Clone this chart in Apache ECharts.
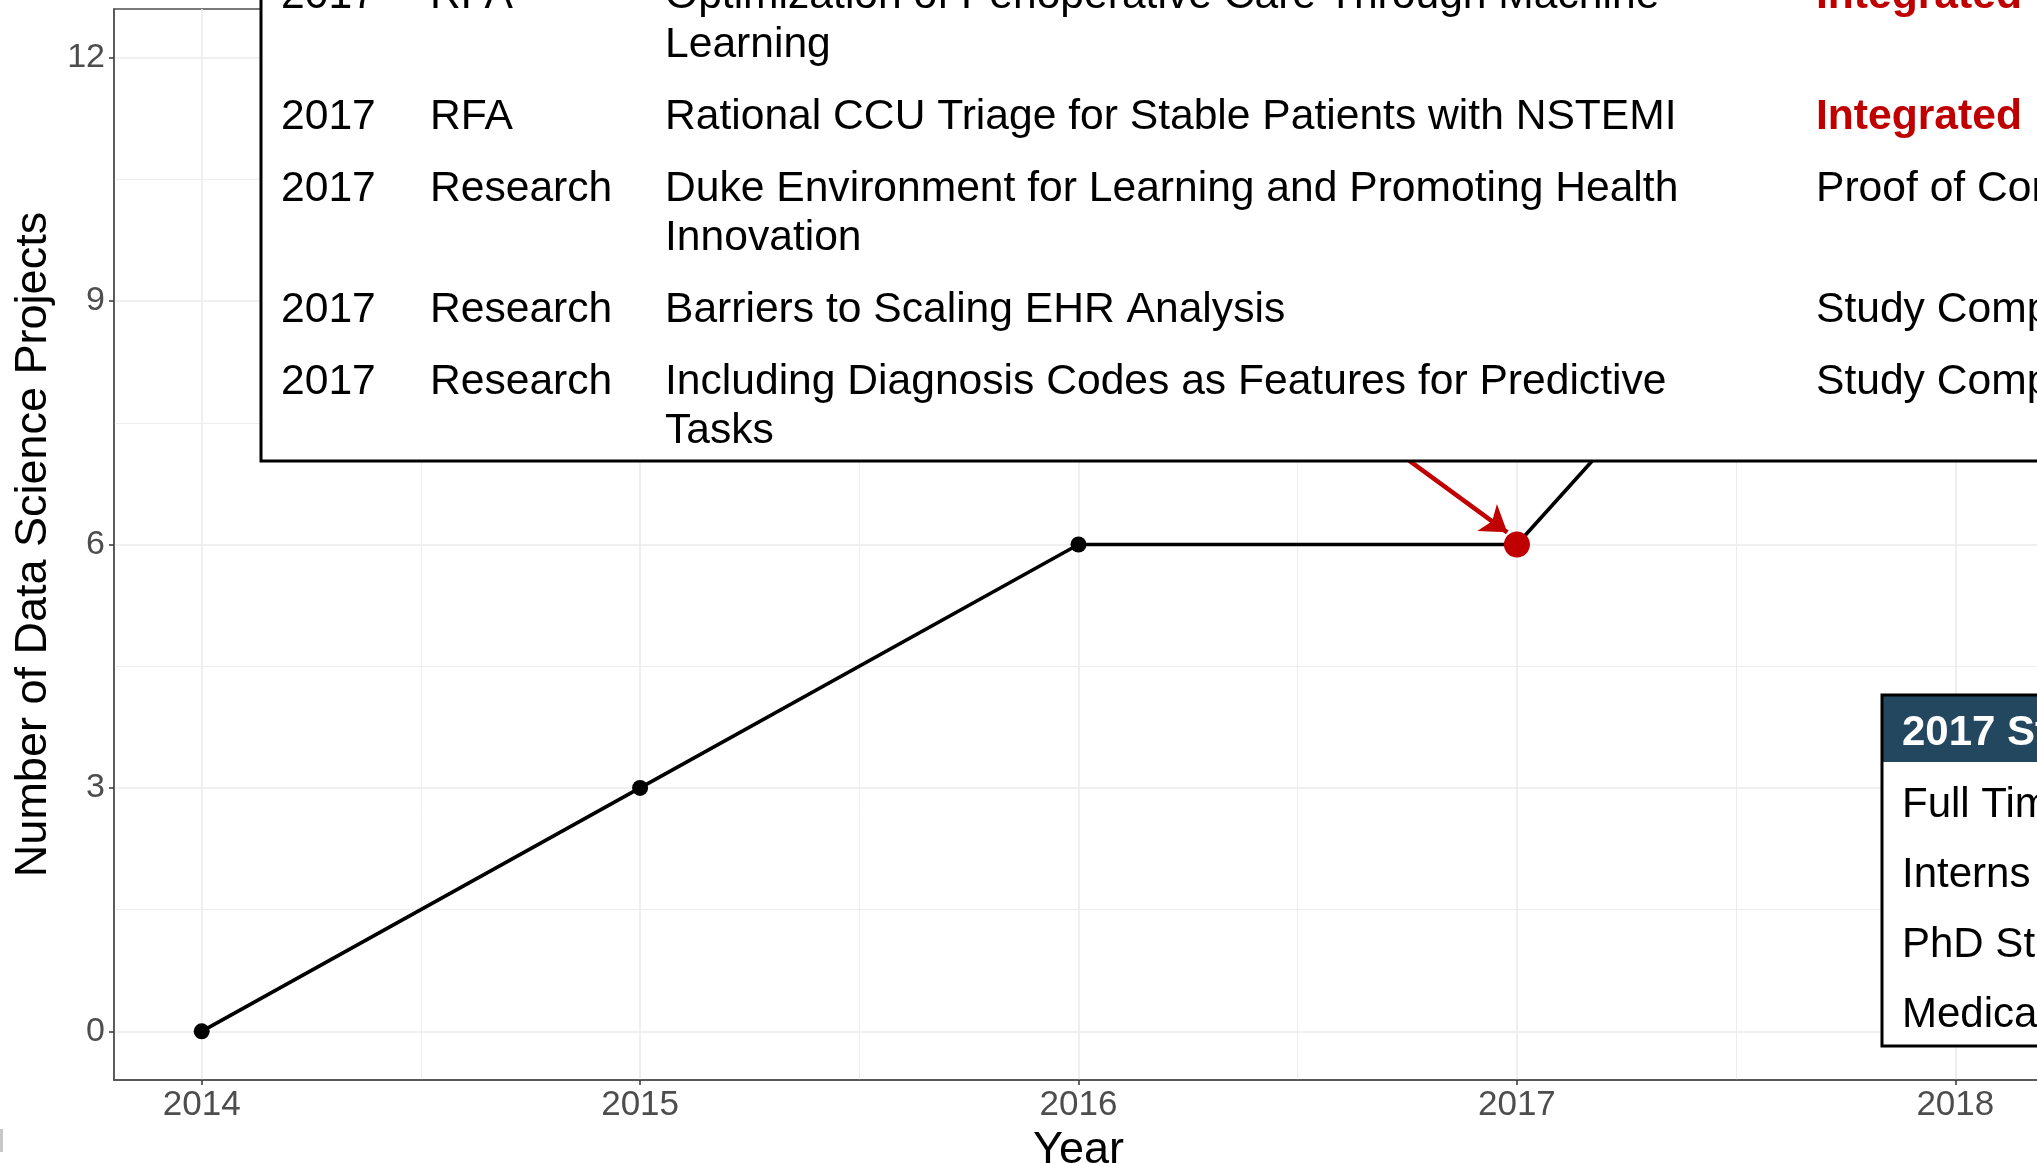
<!DOCTYPE html>
<html>
<head>
<meta charset="utf-8">
<script src="https://cdn.jsdelivr.net/npm/echarts@6/dist/echarts.min.js"></script>
<style>
html, body { margin: 0; padding: 0; background: #fff; }
#chart { width: 2037px; height: 1163px; }
</style>
</head>
<body>
<div id="chart"></div>
<script>
// data
var years = [2014, 2015, 2016, 2017, 2018];
var projects = [0, 3, 6, 6, 12];
var highlightYear = 2017;
var yearTicks = [2014, 2015, 2016, 2017, 2018];
var yearMinor = [2014.5, 2015.5, 2016.5, 2017.5];
var countTicks = [0, 3, 6, 9, 12];
var countMinor = [1.5, 4.5, 7.5, 10.5];
var arrowFrom = [2016.51, 8];
var arrowTo = [2016.978, 6.15];

// project table (top)
var projYears = ['2017', '2017', '2017', '2017', '2017'];
var projTypes = ['RFA', 'RFA', 'Research', 'Research', 'Research'];
var projTitles = [
  'Optimization of Perioperative Care Through Machine\nLearning',
  'Rational CCU Triage for Stable Patients with NSTEMI',
  'Duke Environment for Learning and Promoting Health\nInnovation',
  'Barriers to Scaling EHR Analysis',
  'Including Diagnosis Codes as Features for Predictive\nTasks'
];
var projStatus = ['Integrated', 'Integrated', 'Proof of Concept', 'Study Completed', 'Study Completed'];

// staff table (right)
var staffTitle = '2017 Staff';
var staffRows = ['Full Time', 'Interns', 'PhD Students', 'Medical Students'];

var FONT = "'Liberation Sans', Arial, Helvetica, sans-serif";
var RED = '#C00000';

// put table pieces above the plot
function onTop(el) {
  el.z = 100;
  el.zlevel = 1;
  return el;
}

function projectTable() {
  var colX = [281, 430, 665, 1816];
  var lineH = 49, pad = 11.5, bottom = 461;
  var kids = [onTop({
    type: 'rect', shape: { x: 261, y: -600, width: 2000, height: bottom + 600 },
    style: { fill: '#fff', stroke: '#000', lineWidth: 3 }
  })];
  var y = bottom;
  for (var i = projTitles.length - 1; i >= 0; i--) {
    var lines = projTitles[i].split('\n').length;
    y -= lines * lineH + pad * 2;
    var cells = [projYears[i], projTypes[i], projTitles[i], projStatus[i]];
    for (var c = 0; c < cells.length; c++) {
      var integ = c === 3 && cells[c] === 'Integrated';
      kids.push(onTop({
        type: 'text', x: colX[c], y: y + pad + 6,
        style: {
          text: cells[c], fontFamily: FONT, fontSize: 42.6, lineHeight: lineH,
          fontWeight: integ ? 'bold' : 'normal', fill: integ ? RED : '#000',
          verticalAlign: 'top', align: 'left'
        }
      }));
    }
  }
  return kids;
}

function staffTable() {
  var x0 = 1882, y0 = 695, headH = 67, bottom = 1046;
  var kids = [
    onTop({ type: 'rect', shape: { x: x0, y: y0, width: 400, height: bottom - y0 }, style: { fill: '#fff' } }),
    onTop({ type: 'rect', shape: { x: x0, y: y0, width: 400, height: headH }, style: { fill: '#23475E' } }),
    onTop({ type: 'rect', shape: { x: x0, y: y0, width: 400, height: bottom - y0 }, style: { fill: 'none', stroke: '#000', lineWidth: 3 } }),
    onTop({ type: 'text', x: x0 + 20, y: y0 + 38, style: { text: staffTitle, fontFamily: FONT, fontSize: 42, fontWeight: 'bold', fill: '#fff', verticalAlign: 'middle' } })
  ];
  for (var i = 0; i < staffRows.length; i++) {
    kids.push(onTop({
      type: 'text', x: x0 + 20, y: 805 + i * 70,
      style: { text: staffRows[i], fontFamily: FONT, fontSize: 42, fill: '#000', verticalAlign: 'middle' }
    }));
  }
  return kids;
}

var chart = echarts.init(document.getElementById('chart'));

var gridLine = '#EBEBEB';
var plain = function (v) { return String(v); };
var option = {
  animation: false,
  backgroundColor: '#fff',
  grid: {
    left: 114, right: -6, top: 9, bottom: 83,
    outerBoundsMode: 'none', containLabel: false,
    show: true, borderColor: '#4d4d4d', borderWidth: 1.3
  },
  xAxis: [{
    type: 'value', min: 2013.8, max: 2018.2,
    name: 'Year', nameLocation: 'middle', nameGap: 48,
    nameTextStyle: { fontFamily: FONT, fontSize: 45, color: '#000', verticalAlign: 'top' },
    axisLine: { show: true, onZero: false, lineStyle: { color: '#4d4d4d', width: 1.5 } },
    axisTick: { show: true, customValues: yearTicks, length: 5, lineStyle: { color: '#333', width: 1.5 } },
    axisLabel: { customValues: yearTicks, formatter: plain, margin: 8, fontFamily: FONT, fontSize: 35, color: '#4D4D4D' },
    splitLine: { show: true, lineStyle: { color: gridLine, width: 1.6 } }
  }, {
    type: 'value', min: 2013.8, max: 2018.2, position: 'bottom',
    axisLine: { show: false }, axisLabel: { show: false },
    axisTick: { show: false, customValues: yearMinor },
    splitLine: { show: true, lineStyle: { color: gridLine, width: 0.9 } }
  }],
  yAxis: [{
    type: 'value', min: -0.6, max: 12.6,
    name: 'Number of Data Science Projects', nameLocation: 'middle', nameGap: 57,
    nameTextStyle: { fontFamily: FONT, fontSize: 45, color: '#000' },
    axisLine: { show: true, onZero: false, lineStyle: { color: '#4d4d4d', width: 1.5 } },
    axisTick: { show: true, customValues: countTicks, length: 5, lineStyle: { color: '#333', width: 1.5 } },
    axisLabel: { customValues: countTicks, formatter: plain, margin: 9, fontFamily: FONT, fontSize: 34, color: '#4D4D4D' },
    splitLine: { show: true, lineStyle: { color: gridLine, width: 1.6 } }
  }, {
    type: 'value', min: -0.6, max: 12.6, position: 'left',
    axisLine: { show: false }, axisLabel: { show: false },
    axisTick: { show: false, customValues: countMinor },
    splitLine: { show: true, lineStyle: { color: gridLine, width: 0.9 } }
  }],
  series: [{
    type: 'line',
    xAxisIndex: 0, yAxisIndex: 0,
    data: years.map(function (y, i) {
      var hi = y === highlightYear;
      return { value: [y, projects[i]], symbolSize: hi ? 26 : 16, itemStyle: { color: hi ? RED : '#000' } };
    }),
    symbol: 'circle',
    showSymbol: true,
    lineStyle: { color: '#000', width: 3.6 },
    z: 3
  }, {
    // red arrow pointing at the 2017 point
    type: 'lines',
    coordinateSystem: 'cartesian2d',
    xAxisIndex: 0, yAxisIndex: 0,
    silent: true,
    symbol: ['none', 'arrow'],
    symbolSize: 25,
    lineStyle: { color: RED, width: 4.5, opacity: 1 },
    data: [{ coords: [arrowFrom, arrowTo] }],
    z: 4
  }],
  graphic: projectTable().concat(staffTable()).concat([
    onTop({ type: 'rect', shape: { x: 0, y: 1129, width: 3, height: 23 }, style: { fill: '#C8C8C8' } })
  ])
};
chart.setOption(option);
</script>
</body>
</html>
